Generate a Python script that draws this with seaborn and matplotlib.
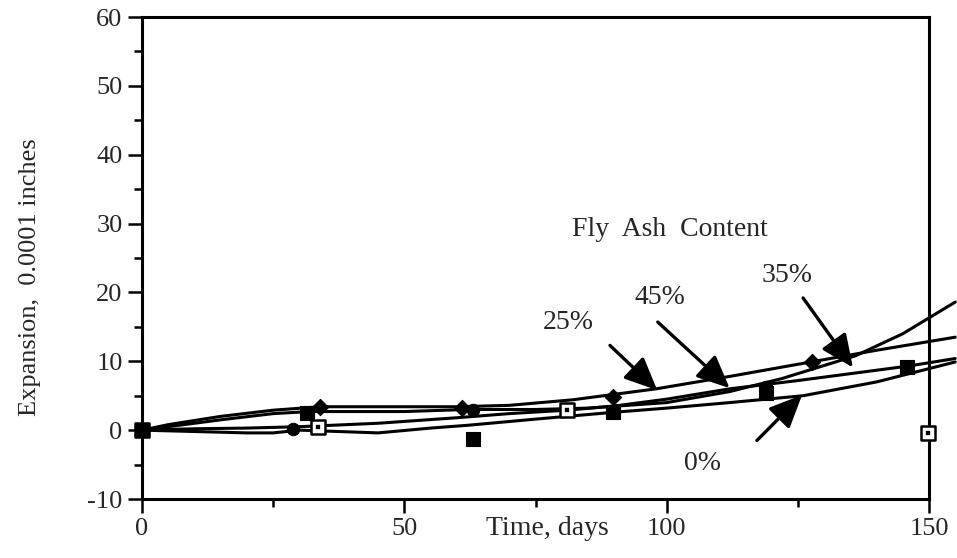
import numpy as np
import pandas as pd
import seaborn as sns
import matplotlib.pyplot as plt
from matplotlib.ticker import MultipleLocator

# fitted curves (days, expansion in 0.0001 in)
days_0 = [0, 10, 20, 25, 30, 45, 55, 62, 75, 90, 100, 112, 126, 140, 155]
fit_0 = [0, -0.2, -0.4, -0.4, 0.0, -0.4, 0.3, 0.7, 1.6, 2.6, 3.2, 4.0, 5.0, 7.0, 9.9]
days_25 = [0, 5, 15, 25, 34, 60, 70, 82, 90, 98, 112, 126, 140, 155]
fit_25 = [0, 0.8, 2.0, 2.9, 3.4, 3.4, 3.6, 4.4, 5.2, 6.0, 7.8, 9.7, 11.6, 13.5]
days_35 = [0, 5, 15, 25, 32, 50, 62, 75, 85, 100, 112, 122, 136, 145, 155]
fit_35 = [0, 0.5, 1.5, 2.4, 2.7, 2.7, 3.0, 3.0, 3.2, 4.0, 5.6, 7.5, 10.8, 14.0, 18.6]
days_45 = [0, 10, 20, 30, 45, 60, 70, 81, 90, 100, 112, 125, 135, 146, 155]
fit_45 = [0, 0.2, 0.3, 0.5, 1.0, 1.8, 2.4, 2.9, 3.5, 4.5, 6.0, 7.2, 8.2, 9.3, 10.4]

# measured points
pts_0_days = [0, 31.4, 63.0, 89.8, 119.0, 145.8]
pts_0 = [0, 2.5, -1.3, 2.6, 5.4, 9.2]
pts_25_days = [0, 33.9, 60.9, 89.8, 127.7]
pts_25 = [0, 3.3, 3.2, 4.8, 9.9]
pts_35_days = [0, 33.6, 81.0, 149.8]
pts_35 = [0, 0.4, 2.9, -0.4]
pts_45_days = [0, 28.8, 63.1, 119.0]
pts_45 = [0, 0.1, 2.9, 6.3]

sns.set_theme(style="ticks")
plt.rcParams["font.family"] = ["Liberation Serif", "DejaVu Serif"]
plt.rcParams["axes.unicode_minus"] = False

fig = plt.figure(figsize=(9.57, 5.58), dpi=100)
ax = fig.add_axes([142 / 957, 59 / 558, 787 / 957, 482 / 558])

fits = [(days_0, fit_0), (days_25, fit_25), (days_35, fit_35), (days_45, fit_45)]
for d, v in fits:
    sns.lineplot(x=d, y=v, color="black", lw=2.2, sort=False, estimator=None, ax=ax)
for line in ax.lines:
    line.set_clip_on(False)

sns.scatterplot(x=pts_35_days, y=pts_35, marker="s", s=90, color="white",
                edgecolor="black", linewidth=1.8, ax=ax, zorder=5)
sns.scatterplot(x=pts_35_days, y=pts_35, marker="s", s=8, color="black",
                edgecolor="black", ax=ax, zorder=6)
sns.scatterplot(x=pts_25_days, y=pts_25, marker="D", s=70, color="black",
                edgecolor="black", ax=ax, zorder=7)
sns.scatterplot(x=pts_45_days, y=pts_45, marker="o", s=80, color="black",
                edgecolor="black", ax=ax, zorder=7)
sns.scatterplot(x=pts_0_days, y=pts_0, marker="s", s=100, color="black",
                edgecolor="black", ax=ax, zorder=8)
for c in ax.collections:
    c.set_clip_on(False)

ax.set_xlim(0, 150)
ax.set_ylim(-10, 60)
ax.xaxis.set_major_locator(MultipleLocator(50))
ax.xaxis.set_minor_locator(MultipleLocator(25))
ax.yaxis.set_major_locator(MultipleLocator(10))
ax.yaxis.set_minor_locator(MultipleLocator(5))
ax.tick_params(which="major", length=10, width=1.8, labelsize=19, pad=4, color="black")
ax.tick_params(which="minor", length=6, width=1.8, color="black")
for sp in ax.spines.values():
    sp.set_visible(True)
    sp.set_linewidth(2.2)
    sp.set_color("black")

ax.set_xlabel("Time, days", fontsize=20)
ax.xaxis.set_label_coords(0.515, -0.035)
ax.set_ylabel("Expansion,  0.0001 inches", fontsize=19)
ax.yaxis.set_label_coords(-0.128, 0.46)

ax.text(100.6, 29.2, "Fly  Ash  Content", fontsize=20, ha="center", va="center")
ax.text(81.2, 15.7, "25%", fontsize=20, ha="center", va="center")
ax.text(98.7, 19.2, "45%", fontsize=20, ha="center", va="center")
ax.text(122.9, 22.4, "35%", fontsize=20, ha="center", va="center")
ax.text(106.9, -4.8, "0%", fontsize=20, ha="center", va="center")

arrows = [((89.2, 12.3), (98.2, 5.8)), ((98.3, 15.7), (112, 6.1)),
          ((126, 19.2), (135.5, 9.1)), ((117.2, -1.5), (125.8, 5.1))]
for tail, tip in arrows:
    ax.annotate("", xy=tip, xytext=tail,
                arrowprops=dict(arrowstyle="-|>,head_length=1.0,head_width=0.45",
                                color="black", lw=2.4, mutation_scale=20,
                                shrinkA=0, shrinkB=0))

fig.savefig("out.png", dpi=100)
